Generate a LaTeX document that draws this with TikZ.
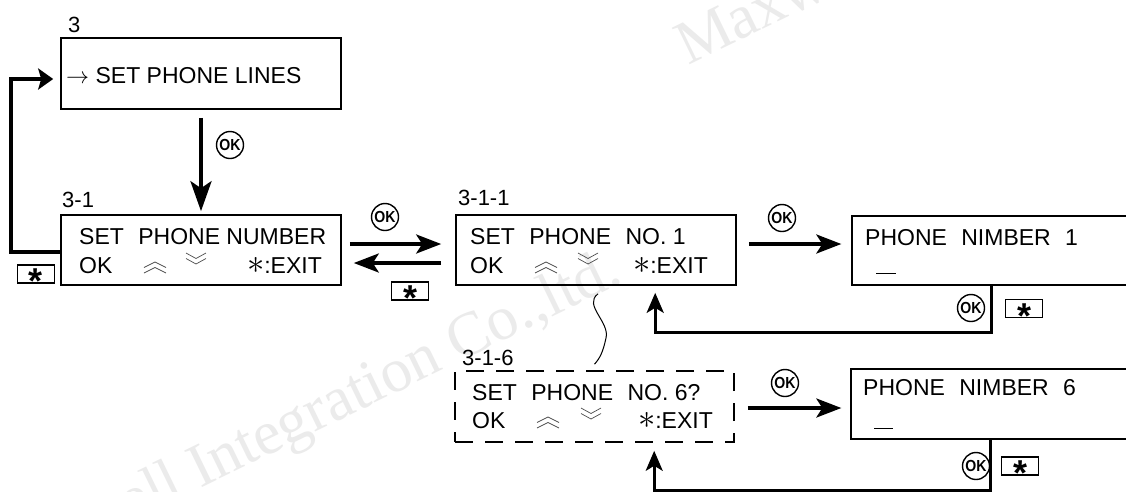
\RequirePackage{fix-cm}
\documentclass[tikz,border=0pt]{standalone}
\usepackage{fontspec}
\setmainfont{Liberation Sans}
\newfontfamily\wmfont{Liberation Serif}
\usetikzlibrary{arrows.meta,calc}
\tikzset{
  box/.style={draw, line width=1.6pt, inner sep=0pt, minimum width=280pt, minimum height=70pt},
  pnbox/.style={draw, line width=1.3pt, inner sep=0pt, minimum width=288pt, minimum height=69pt},
  dbox/.style={box, dash pattern=on 18pt off 12pt},
  lcd/.style={font=\fontsize{23pt}{27pt}\selectfont, inner sep=0pt, anchor=base west},
  lcdr/.style={lcd, anchor=base east},
  lbl/.style={font=\fontsize{22pt}{26pt}\selectfont, inner sep=0pt, anchor=base west},
  okicon/.style={circle, draw, line width=1.4pt, minimum size=27pt, inner sep=0pt,
    font=\bfseries\fontsize{16pt}{16pt}\selectfont},
  starkey/.style={draw, line width=1.3pt, minimum width=37pt, minimum height=18pt, inner sep=0pt,
    font=\bfseries\fontsize{36pt}{36pt}\selectfont},
  arr/.style={line width=3.5pt, -{Stealth[length=25pt, width=19pt, inset=6pt]}},
  darr/.style={line width=3.8pt, -{Stealth[length=30pt, width=21pt, inset=7pt]}},
  looparr/.style={line width=4pt, -{Stealth[length=15pt, width=21pt, inset=3pt]}},
  retarr/.style={line width=3.3pt, -{Stealth[length=20pt, width=17pt, inset=5pt]}},
  chev/.style={line width=0.7pt, black!70},
  upchev/.pic={\draw[chev] (-11,0) -- (0,-5.5) -- (11,0) (-11,-5.5) -- (0,-11) -- (11,-5.5);},
  dnchev/.pic={\draw[chev] (-10,-20) -- (0,-14.5) -- (10,-20) (-10,-14.5) -- (0,-9) -- (10,-14.5);},
  wm/.style={font=\wmfont\fontsize{62pt}{62pt}\selectfont, text=black!8, anchor=base west, rotate=26, inner sep=0pt},
  cursor/.style={line width=1.6pt}
}
\newcommand\keystar{\raisebox{-0.55em}[0pt][0pt]{*}}
\newcommand\exittxt{\scalebox{1.5}{$\ast$}:EXIT}
\newcommand\oktxt{\scalebox{0.88}[1]{OK}}
\begin{document}
\begin{tikzpicture}[x=1pt,y=-1pt]
\useasboundingbox (0,0) rectangle (1126,491);
\fill[white] (0,0) rectangle (1126,491);
\clip (0,0) rectangle (1126,491);
% watermark
\node[wm] (wm1) at (-12,592) {Maxwell Integration Co.,ltd.};
\node[wm] (wm2) at (688,66) {Maxwell Integration Co.,ltd.};
% boxes
\node[box, minimum height=71pt] (b3) at (201,73.5) {};
\node[box] (b31) at (201,250) {};
\node[box] (b311) at (596,250) {};
\node[dbox, minimum width=279pt, minimum height=71pt] (b316) at (594.5,406.5) {};
\node[pnbox] (pn1) at (996,250.5) {};
\node[pnbox, minimum width=289pt, minimum height=70pt] (pn6) at (995.5,404) {};
% labels
\node[lbl] (l3) at (68,32) {3};
\node[lbl] (l31) at (62,207) {3-1};
\node[lbl] (l311) at (458,205) {3-1-1};
\node[lbl] (l316) at (462,365) {3-1-6};
% box texts
\node[lcd] (t3) at (66,83) {$\rightarrow$ SET PHONE LINES};
\node[lcd] (t31a) at (79,244) {SET\hspace{8pt} PHONE NUMBER};
\node[lcd] (t31b) at (79,273) {OK};
\node[lcdr] (t31c) at (322,273) {\exittxt};
\pic at (155,273) {upchev};
\pic at (196,273) {dnchev};
\node[lcd] (t311a) at (470,244) {SET\hspace{8pt} PHONE\hspace{8pt} NO. 1};
\node[lcd] (t311b) at (470,273) {OK};
\node[lcdr] (t311c) at (708,273) {\exittxt};
\pic at (546,273) {upchev};
\pic at (588,273) {dnchev};
\node[lcd] (t316a) at (472,400) {SET\hspace{8pt} PHONE\hspace{8pt} NO. 6?};
\node[lcd] (t316b) at (472,428) {OK};
\node[lcdr] (t316c) at (713,428) {\exittxt};
\pic at (548,428) {upchev};
\pic at (591,428) {dnchev};
\node[lcd] (tpn1) at (865,245) {PHONE\hspace{8pt} NIMBER\hspace{8pt} 1};
\draw[cursor] ($(pn1.south west)+(25,-12)$) -- ++(20,0);
\node[lcd] (tpn6) at (863,395) {PHONE\hspace{8pt} NIMBER\hspace{8pt} 6};
\draw[cursor] ($(pn6.south west)+(24,-11)$) -- ++(19,0);
% OK icons and star keys
\node[okicon] (ok1) at (230,145) {\oktxt};
\node[okicon] (ok2) at (385,217) {\oktxt};
\node[okicon] (ok3) at (782,218) {\oktxt};
\node[okicon] (ok4) at (785,383) {\oktxt};
\node[okicon] (ok5) at (971,308) {\oktxt};
\node[okicon] (ok6) at (976,466) {\oktxt};
\node[starkey] (s1) at (36,274) {\keystar};
\node[starkey] (s2) at (410,291) {\keystar};
\node[starkey] (s3) at (1024,308.5) {\keystar};
\node[starkey] (s4) at (1020,466) {\keystar};
% connectors
\draw[darr, shorten <=8pt, shorten >=3pt] (b3.south) -- (b31.north);
\draw[looparr, shorten >=7pt] ($(b31.west)+(0,2)$) -- ++(-49,0) |- ($(b3.west)+(0,5.5)$);
\draw[arr, shorten <=8pt, shorten >=14pt] ($(b31.east)+(0,-6)$) -- ($(b311.west)+(0,-6)$);
\draw[arr, shorten <=14pt, shorten >=12pt] ($(b311.west)+(0,13)$) -- ($(b31.east)+(0,13)$);
\coordinate (a1) at ($(b311.east)+(0,-6)$);
\draw[arr, shorten <=12pt, shorten >=10pt] (a1) -- (a1 -| pn1.west);
\coordinate (a2) at ($(b316.east)+(0,1.5)$);
\draw[arr, shorten <=13pt, shorten >=9pt] (a2) -- (a2 -| pn6.west);
\draw[retarr, shorten >=7pt] ($(pn1.south west)+(140,0)$) -- ++(0,47) -| ($(b311.south west)+(200,0)$);
\draw[retarr, line width=2.6pt, shorten >=8pt] ($(pn6.south west)+(140,0)$) -- ++(0,51) -| ($(b316.south west)+(200,0)$);
\draw[line width=1pt] ($(b311.south)+(2,8)$) .. controls (583,305) and (610,322) .. (606,338)
   .. controls (603,352) and (600,358) .. ($(b316.north)+(0,-6)$);
\end{tikzpicture}
\end{document}
